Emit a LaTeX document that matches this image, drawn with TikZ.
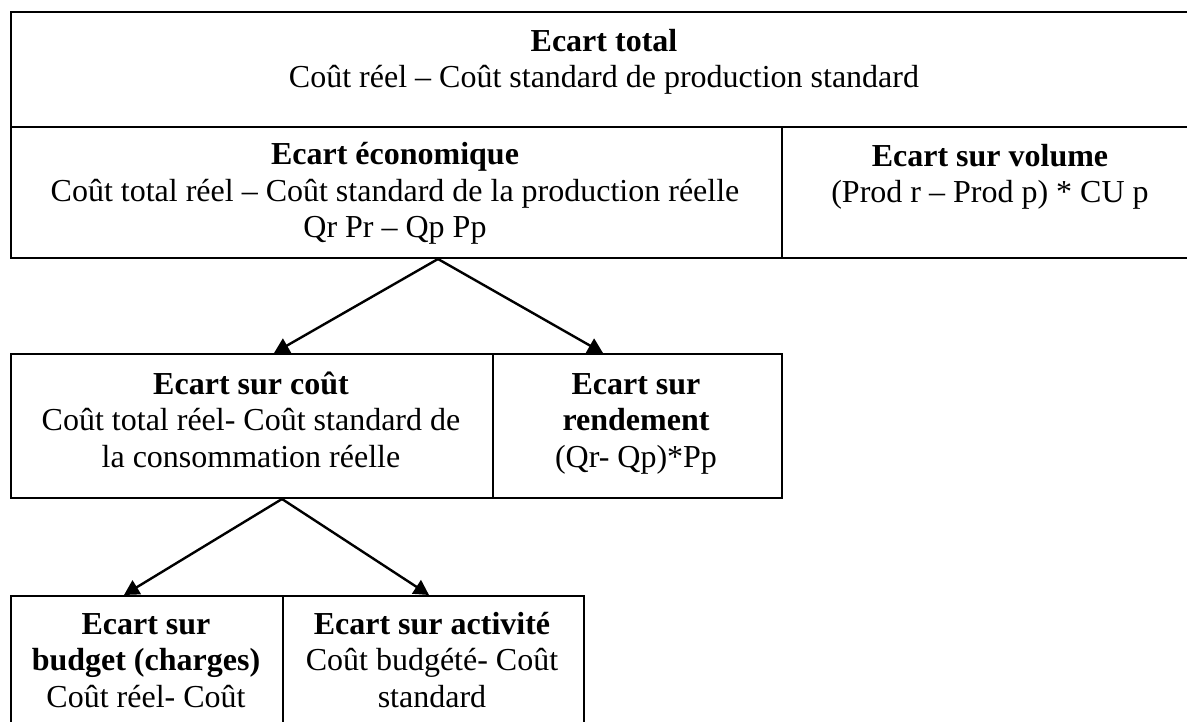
\documentclass[tikz,border=0pt]{standalone}
\usepackage{fontspec}
\setmainfont{Liberation Serif}
\usetikzlibrary{arrows.meta}
\begin{document}
\begin{tikzpicture}[x=1pt, y=-1pt,
  cell/.style={draw, line width=2pt, inner sep=0pt, anchor=north west},
  txt/.style={anchor=base, align=center, inner sep=0pt,
              font=\fontsize{32}{36.5}\selectfont},
  arr/.style={line width=2.4pt, -{Triangle[length=15pt, width=16pt]}}]
  \clip (0,0) rectangle (1187,722);
  \fill[white] (0,0) rectangle (1187,722);

  % first row
  \node[cell, minimum width=1188pt, minimum height=115pt] (total) at (10,11) {};
  % second row
  \node[cell, minimum width=771pt, minimum height=131pt] (eco) at (10,126) {};
  \node[cell, minimum width=418pt, minimum height=131pt] (vol) at (781,126) {};
  % third row
  \node[cell, minimum width=482pt, minimum height=144pt] (cout) at (10,353) {};
  \node[cell, minimum width=289pt, minimum height=144pt] (rend) at (492,353) {};
  % fourth row
  \node[cell, minimum width=272pt, minimum height=170pt] (budget) at (10,595) {};
  \node[cell, minimum width=301pt, minimum height=170pt] (activ) at (282,595) {};

  % texts (each placed by the baseline of its last line)
  \node[txt] (totalT) at (604,88) {\textbf{Ecart total}\\Coût réel – Coût standard de production standard};
  \node[txt] (ecoT) at (395,238) {\textbf{Ecart économique}\\Coût total réel – Coût standard de la production réelle\\Qr Pr – Qp Pp};
  \node[txt] (volT) at (990,203) {\textbf{Ecart sur volume}\\(Prod r – Prod p) * CU p};
  \node[txt] (coutT) at (251,467) {\textbf{Ecart sur coût}\\Coût total réel- Coût standard de\\la consommation réelle};
  \node[txt] (rendT) at (636,467) {\textbf{Ecart sur}\\\textbf{rendement}\\(Qr- Qp)*Pp};
  \node[txt] (budgetT) at (146,707) {\textbf{Ecart sur}\\\textbf{budget (charges)}\\Coût réel- Coût};
  \node[txt] (activT) at (432,707) {\textbf{Ecart sur activité}\\Coût budgété- Coût\\standard};

  % connectors
  \draw[arr] ([xshift=41.5pt]eco.south) -- ([xshift=22pt]cout.north);
  \draw[arr] ([xshift=41.5pt]eco.south) -- ([xshift=-34.5pt]rend.north);
  \draw[arr] ([xshift=30pt]cout.south) -- ([xshift=-23pt]budget.north);
  \draw[arr] ([xshift=30pt]cout.south) -- ([xshift=-4.5pt]activ.north);
\end{tikzpicture}
\end{document}
